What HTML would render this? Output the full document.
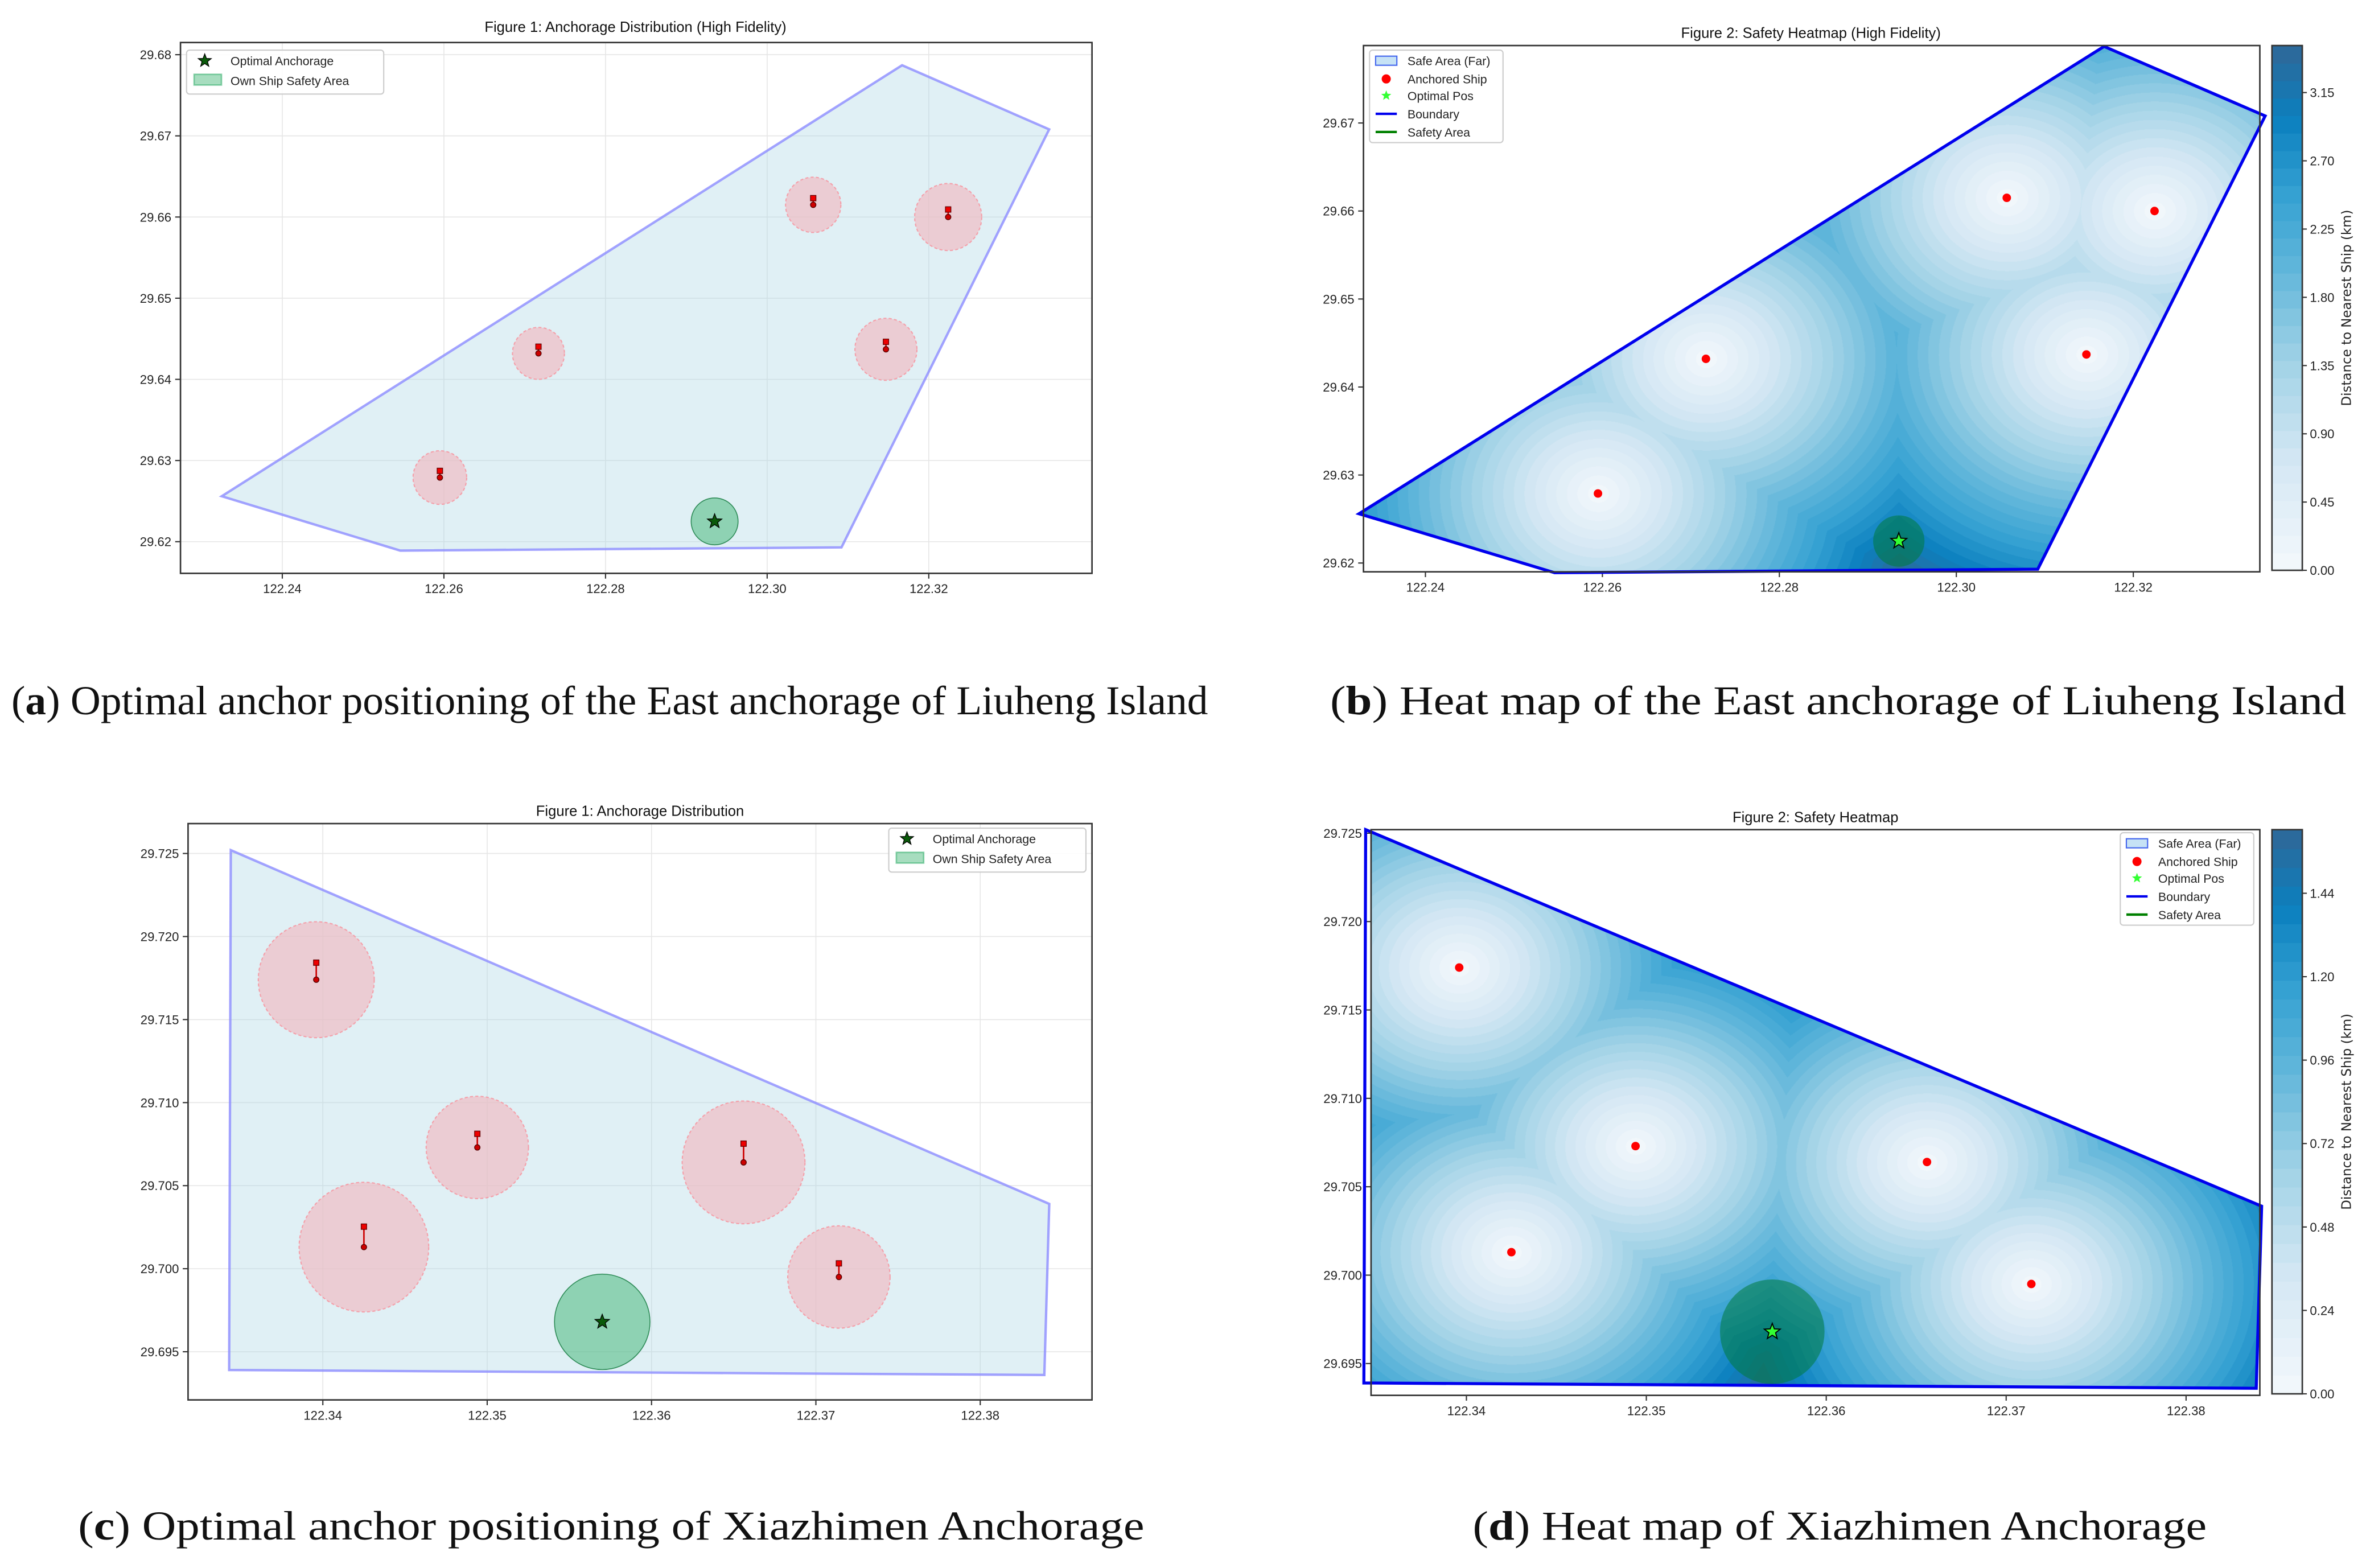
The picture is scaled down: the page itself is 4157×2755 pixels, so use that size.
<!DOCTYPE html>
<html><head><meta charset="utf-8">
<style>
html,body{margin:0;padding:0;background:#fff;}
#wrap{position:relative;width:4157px;height:2755px;overflow:hidden;background:#fff;}
canvas{position:absolute;}
svg{position:absolute;left:0;top:0;}
</style></head>
<body>
<div id="wrap">
<canvas id="heatB"></canvas>
<canvas id="heatD"></canvas>
<svg id="svg" width="4157" height="2755" viewBox="0 0 1560 1033.8"></svg>
</div>
<script>
// ---- data: Liuheng (panels a,b) ----
const polyLonA = [122.2325,122.2546,122.3092,122.3349,122.3167];
const polyLatA = [29.6256,29.6189,29.6193,29.6708,29.6787];
const shipLonA = [122.2595,122.2717,122.3057,122.3224,122.3147];
const shipLatA = [29.6279,29.6432,29.6615,29.6600,29.6437];
const shipRadA = [0.32,0.31,0.33,0.40,0.37];
const bowLenA = [0.08,0.08,0.08,0.09,0.09];
const optLonA = 122.2935, optLatA = 29.6225, optRadA = 0.28;
const xTicksA = [122.24,122.26,122.28,122.30,122.32];
const yTicksA = [29.62,29.63,29.64,29.65,29.66,29.67,29.68];
const yTicksB = [29.62,29.63,29.64,29.65,29.66,29.67];
const cbTicksB = [0,0.45,0.90,1.35,1.80,2.25,2.70,3.15];
const cbMaxB = 3.46;
// ---- data: Xiazhimen (panels c,d) ----
const polyLonC = [122.3344,122.3842,122.3839,122.3343];
const polyLatC = [29.7252,29.7039,29.6936,29.6939];
const shipLonC = [122.3396,122.3425,122.3494,122.3656,122.3714];
const shipLatC = [29.7174,29.7013,29.7073,29.7064,29.6995];
const shipRadC = [0.34,0.38,0.30,0.36,0.30];
const bowLenC = [0.10,0.12,0.08,0.11,0.08];
const optLonC = 122.3570, optLatC = 29.6968, optRadC = 0.28;
const xTicksC = [122.34,122.35,122.36,122.37,122.38];
const yTicksC = [29.695,29.700,29.705,29.710,29.715,29.720,29.725];
const cbTicksD = [0,0.24,0.48,0.72,0.96,1.20,1.44];
const cbMaxD = 1.623;

const S = 4157/1560;
const NS = 'http://www.w3.org/2000/svg';
const svg = document.getElementById('svg');
function el(tag, attrs, parent){
  const e = document.createElementNS(NS, tag);
  for (const k in attrs) e.setAttribute(k, attrs[k]);
  (parent||svg).appendChild(e); return e;
}
function lin(d0,d1,r0,r1){ return v => r0 + (v-d0)/(d1-d0)*(r1-r0); }
const KMLAT = 111.0;
function kmLon(lat){ return 111.0*Math.cos(lat*Math.PI/180); }

const CT = [0,0.2,0.4,0.58,0.72,0.86,1];
const CC = [[243,248,252],[214,232,244],[160,210,230],[95,181,218],[52,160,210],[11,128,191],[47,103,151]];
function blues(t){
  t = Math.max(0,Math.min(1,t));
  let i=0; while(i<CT.length-2 && t>CT[i+1]) i++;
  const f=(t-CT[i])/(CT[i+1]-CT[i]);
  return CC[i].map((v,k)=>Math.round(v+(CC[i+1][k]-v)*f));
}
const NLEV = 30;
function levelColor(d, vmax){
  const lev = Math.min(NLEV-1, Math.floor(d/vmax*NLEV));
  return blues((lev+0.5)/NLEV);
}

function starPts(cx,cy,r){
  let p=[]; for(let i=0;i<10;i++){const a=-Math.PI/2+i*Math.PI/5; const rr=i%2?r*0.42:r; p.push((cx+rr*Math.cos(a)).toFixed(2)+','+(cy+rr*Math.sin(a)).toFixed(2));} return p.join(' ');
}

function frame(x0,y0,x1,y1,name){
  const r = el('rect',{x:x0,y:y0,width:x1-x0,height:y1-y0,fill:'none',stroke:'#333','stroke-width':1});
  
  
}
function ticks(xs, ys, X, Y, box, grid, xfmt, yfmt){
  const [x0,y0,x1,y1] = box;
  xs.forEach(v=>{
    const px = X(v);
    if (grid) { const g = el('line',{x1:px,x2:px,y1:y0,y2:y1,stroke:'#e6e6e6','stroke-width':0.6});   }
    el('line',{x1:px,x2:px,y1:y1,y2:y1+3.5,stroke:'#333','stroke-width':0.8});
    const t = el('text',{x:px,y:y1+13,'font-size':8.3,'text-anchor':'middle','font-family':'Liberation Sans, sans-serif',fill:'#222'});
    t.textContent = v.toFixed(xfmt);
     
  });
  ys.forEach(v=>{
    const py = Y(v);
    if (grid) { const g = el('line',{x1:x0,x2:x1,y1:py,y2:py,stroke:'#e6e6e6','stroke-width':0.6});   }
    el('line',{x1:x0-3.5,x2:x0,y1:py,y2:py,stroke:'#333','stroke-width':0.8});
    const t = el('text',{x:x0-6,y:py+3,'font-size':8.3,'text-anchor':'end','font-family':'Liberation Sans, sans-serif',fill:'#222'});
    t.textContent = v.toFixed(yfmt);
     
  });
}
function title(x,y,txt,name){
  const t = el('text',{x:x,y:y,'font-size':9.6,'text-anchor':'middle','font-family':'Liberation Sans, sans-serif',fill:'#111'});
  t.textContent = txt;  
}
function caption(x,y,len,letter,txt,name){
  const t = el('text',{x:x-len/2,y:y,'font-size':27,'font-family':'Liberation Serif, serif',fill:'#111',textLength:len,lengthAdjust:'spacingAndGlyphs'});
   
  const a = el('tspan',{},t); a.textContent='(';
  const b = el('tspan',{'font-weight':'bold'},t); b.textContent=letter;
  const c = el('tspan',{},t); c.textContent=') '+txt;
}

function distPanel(cfg){
  const {box,X,Y,plon,plat,slon,slat,srad,bow,olon,olat,orad,xt,yt,xf,yf,pfx} = cfg;
  const [x0,y0,x1,y1] = box;
  ticks(xt,yt,X,Y,box,true,xf,yf);
  const pts = plon.map((v,i)=>X(v)+','+Y(plat[i])).join(' ');
  const pg = el('polygon',{points:pts,fill:'#add8e6','fill-opacity':0.38,stroke:'#8c8cff','stroke-width':1.6,'stroke-opacity':0.8});
   
  const pxPerKm = (X(plon[0]+1/kmLon(plat[0])) - X(plon[0]));
  slon.forEach((v,i)=>{
    const cx=X(v), cy=Y(slat[i]);
    const c = el('circle',{cx:cx,cy:cy,r:srad[i]*pxPerKm,fill:'#f4b6bd','fill-opacity':0.6,stroke:'#f4a0aa','stroke-width':0.8,'stroke-dasharray':'2,1.5'});
     
    const by = cy - bow[i]*pxPerKm;
    el('line',{x1:cx,x2:cx,y1:cy,y2:by,stroke:'#c00','stroke-width':1});
    const b = el('rect',{x:cx-1.8,y:by-1.8,width:3.6,height:3.6,fill:'#e00',stroke:'#600','stroke-width':0.5});
     
    const d = el('circle',{cx:cx,cy:cy,r:1.8,fill:'#c00',stroke:'#500','stroke-width':0.5});
     
  });
  const ox=X(olon), oy=Y(olat);
  const oc = el('circle',{cx:ox,cy:oy,r:orad*pxPerKm,fill:'#3cb371','fill-opacity':0.5,stroke:'#2e8b57','stroke-width':0.6});
   
  const st = el('polygon',{points:starPts(ox,oy,5),fill:'#0a5a0a',stroke:'#000','stroke-width':0.5});
   
  frame(x0,y0,x1,y1,pfx+'plot-frame');
}

function heatPanel(cfg){
  const {box,X,Y,Xi,Yi,plon,plat,slon,slat,olon,olat,orad,xt,yt,xf,yf,cbBox,cbTicks,cbMax,canvasId,pfx} = cfg;
  const [x0,y0,x1,y1] = box;
  const cv = document.getElementById(canvasId);
  const W = Math.round((x1-x0)*S), H = Math.round((y1-y0)*S);
  cv.width=W; cv.height=H; cv.style.left=(x0*S)+'px'; cv.style.top=(y0*S)+'px';
  const ctx = cv.getContext('2d');
  const img = ctx.createImageData(W,H);
  const kl = kmLon(plat[0]);
  for(let j=0;j<H;j++){
    const lat = Yi(y0 + j/S);
    for(let i=0;i<W;i++){
      const lon = Xi(x0 + i/S);
      let dm = 1e9;
      for(let k=0;k<slon.length;k++){
        const dx=(lon-slon[k])*kl, dy=(lat-slat[k])*KMLAT;
        const d = dx*dx+dy*dy; if(d<dm) dm=d;
      }
      const c = levelColor(Math.sqrt(dm), cbMax);
      const o=(j*W+i)*4; img.data[o]=c[0]; img.data[o+1]=c[1]; img.data[o+2]=c[2]; img.data[o+3]=255;
    }
  }
  const tmp = document.createElement('canvas'); tmp.width=W; tmp.height=H;
  tmp.getContext('2d').putImageData(img,0,0);
  ctx.save(); ctx.beginPath();
  plon.forEach((v,i)=>{ const px=(X(v)-x0)*S, py=(Y(plat[i])-y0)*S; if(i) ctx.lineTo(px,py); else ctx.moveTo(px,py); });
  ctx.closePath(); ctx.clip(); ctx.drawImage(tmp,0,0); ctx.restore();

  ticks(xt,yt,X,Y,box,false,xf,yf);
  const pts = plon.map((v,i)=>X(v)+','+Y(plat[i])).join(' ');
  const pg = el('polygon',{points:pts,fill:'none',stroke:'#0000ee','stroke-width':2});
   
  const pxPerKm = (X(plon[0]+1/kl) - X(plon[0]));
  slon.forEach((v,i)=>{
    const d = el('circle',{cx:X(v),cy:Y(slat[i]),r:2.8,fill:'#ff0000'});
     
  });
  const ox=X(olon), oy=Y(olat);
  const oc = el('circle',{cx:ox,cy:oy,r:orad*pxPerKm,fill:'#007a3d','fill-opacity':0.55});
   
  const st = el('polygon',{points:starPts(ox,oy,5.5),fill:'#33ff33',stroke:'#000','stroke-width':0.7});
   
  frame(x0,y0,x1,y1,pfx+'plot-frame');
  const [cx0,cy0,cx1,cy1] = cbBox;
  const CB = lin(0,cbMax,cy1,cy0);
  for(let l=0;l<NLEV;l++){
    const c = blues((l+0.5)/NLEV);
    const ya = CB((l+1)*cbMax/NLEV), yb = CB(l*cbMax/NLEV);
    el('rect',{x:cx0,y:ya,width:cx1-cx0,height:yb-ya+0.4,fill:'rgb('+c.join(',')+')'});
  }
  frame(cx0,cy0,cx1,cy1,pfx+'colorbar');
  cbTicks.forEach(v=>{
    const py=CB(v);
    el('line',{x1:cx1,x2:cx1+3,y1:py,y2:py,stroke:'#333','stroke-width':0.8});
    const t = el('text',{x:cx1+5,y:py+3,'font-size':8.3,'font-family':'Liberation Sans, sans-serif',fill:'#222'});
    t.textContent=v.toFixed(2);  
  });
  const my=(cy0+cy1)/2;
  const t = el('text',{x:1550,y:my,'font-size':8.6,'text-anchor':'middle','font-family':'DejaVu Sans, sans-serif',fill:'#222',transform:'rotate(-90 1550 '+my+')'});
  t.textContent='Distance to Nearest Ship (km)';  
}

function legendBox(x,y,w,h,name){
  const r = el('rect',{x:x,y:y,width:w,height:h,fill:'#fff','fill-opacity':0.85,stroke:'#ccc','stroke-width':0.8,rx:2});
   
}
function legText(x,y,txt){
  const t = el('text',{x:x,y:y+3,'font-size':8,'font-family':'Liberation Sans, sans-serif',fill:'#222'});
  t.textContent=txt;  
}
function distLegend(x,y){
  legendBox(x,y,130,29,'legend');
  el('polygon',{points:starPts(x+12,y+7,4.5),fill:'#0a5a0a',stroke:'#000','stroke-width':0.5});
  legText(x+29,y+7,'Optimal Anchorage');
  el('rect',{x:x+5,y:y+16,width:18,height:7,fill:'#3cb371','fill-opacity':0.45,stroke:'#3cb371','stroke-opacity':0.6});
  legText(x+29,y+20,'Own Ship Safety Area');
}
function heatLegend(x,y){
  legendBox(x,y,88,61,'legend');
  const ys=[7,19,30,42,54].map(v=>y+v);
  el('rect',{x:x+4,y:ys[0]-3,width:14,height:6,fill:'#c6e2f5',stroke:'#4466ee','stroke-width':0.8});
  legText(x+25,ys[0],'Safe Area (Far)');
  el('circle',{cx:x+11,cy:ys[1],r:3,fill:'#f00'}); legText(x+25,ys[1],'Anchored Ship');
  el('polygon',{points:starPts(x+11,ys[2],3.5),fill:'#33ff33'}); legText(x+25,ys[2],'Optimal Pos');
  el('line',{x1:x+4,x2:x+18,y1:ys[3],y2:ys[3],stroke:'#0000ee','stroke-width':1.6}); legText(x+25,ys[3],'Boundary');
  el('line',{x1:x+4,x2:x+18,y1:ys[4],y2:ys[4],stroke:'#008000','stroke-width':1.6}); legText(x+25,ys[4],'Safety Area');
}

{
  const box=[119,28,720,378];
  const X=lin(122.2274,122.3402,119,720), Y=lin(29.6161,29.6815,378,28);
  distPanel({box,X,Y,plon:polyLonA,plat:polyLatA,slon:shipLonA,slat:shipLatA,srad:shipRadA,bow:bowLenA,olon:optLonA,olat:optLatA,orad:optRadA,xt:xTicksA,yt:yTicksA,xf:2,yf:2,pfx:'a-'});
  title(419,21,'Figure 1: Anchorage Distribution (High Fidelity)','title-a');
  distLegend(123,33);
  caption(402,471,789,'a','Optimal anchor positioning of the East anchorage of Liuheng Island','caption-a');
}
{
  const box=[899,30,1490,377];
  const X=lin(122.233,122.3343,899,1490), Y=lin(29.619,29.6788,377,30);
  const Xi=lin(899,1490,122.233,122.3343), Yi=lin(377,30,29.619,29.6788);
  heatPanel({box,X,Y,Xi,Yi,plon:polyLonA,plat:polyLatA,slon:shipLonA,slat:shipLatA,olon:optLonA,olat:optLatA,orad:optRadA,xt:xTicksA,yt:yTicksB,xf:2,yf:2,cbBox:[1498,30,1518,376],cbTicks:cbTicksB,cbMax:cbMaxB,canvasId:'heatB',pfx:'b-'});
  title(1194,25,'Figure 2: Safety Heatmap (High Fidelity)','title-b');
  heatLegend(903,33);
  caption(1212,471,670,'b','Heat map of the East anchorage of Liuheng Island','caption-b');
}
{
  const box=[124,543,720,923];
  const X=lin(122.3318,122.3868,124,720), Y=lin(29.6921,29.7268,923,543);
  distPanel({box,X,Y,plon:polyLonC,plat:polyLatC,slon:shipLonC,slat:shipLatC,srad:shipRadC,bow:bowLenC,olon:optLonC,olat:optLatC,orad:optRadC,xt:xTicksC,yt:yTicksC,xf:2,yf:3,pfx:'c-'});
  title(422,538,'Figure 1: Anchorage Distribution','title-c');
  distLegend(586,546);
  caption(403,1015,703,'c','Optimal anchor positioning of Xiazhimen Anchorage','caption-c');
}
{
  const box=[904,547,1490,920];
  const X=lin(122.3347,122.3841,904,1490), Y=lin(29.6932,29.7252,920,547);
  const Xi=lin(904,1490,122.3347,122.3841), Yi=lin(920,547,29.6932,29.7252);
  heatPanel({box,X,Y,Xi,Yi,plon:polyLonC,plat:polyLatC,slon:shipLonC,slat:shipLatC,olon:optLonC,olat:optLatC,orad:optRadC,xt:xTicksC,yt:yTicksC,xf:2,yf:3,cbBox:[1498,547,1518,919],cbTicks:cbTicksD,cbMax:cbMaxD,canvasId:'heatD',pfx:'d-'});
  title(1197,542,'Figure 2: Safety Heatmap','title-d');
  heatLegend(1398,549);
  caption(1213,1015,484,'d','Heat map of Xiazhimen Anchorage','caption-d');
}
</script>
</body></html>
